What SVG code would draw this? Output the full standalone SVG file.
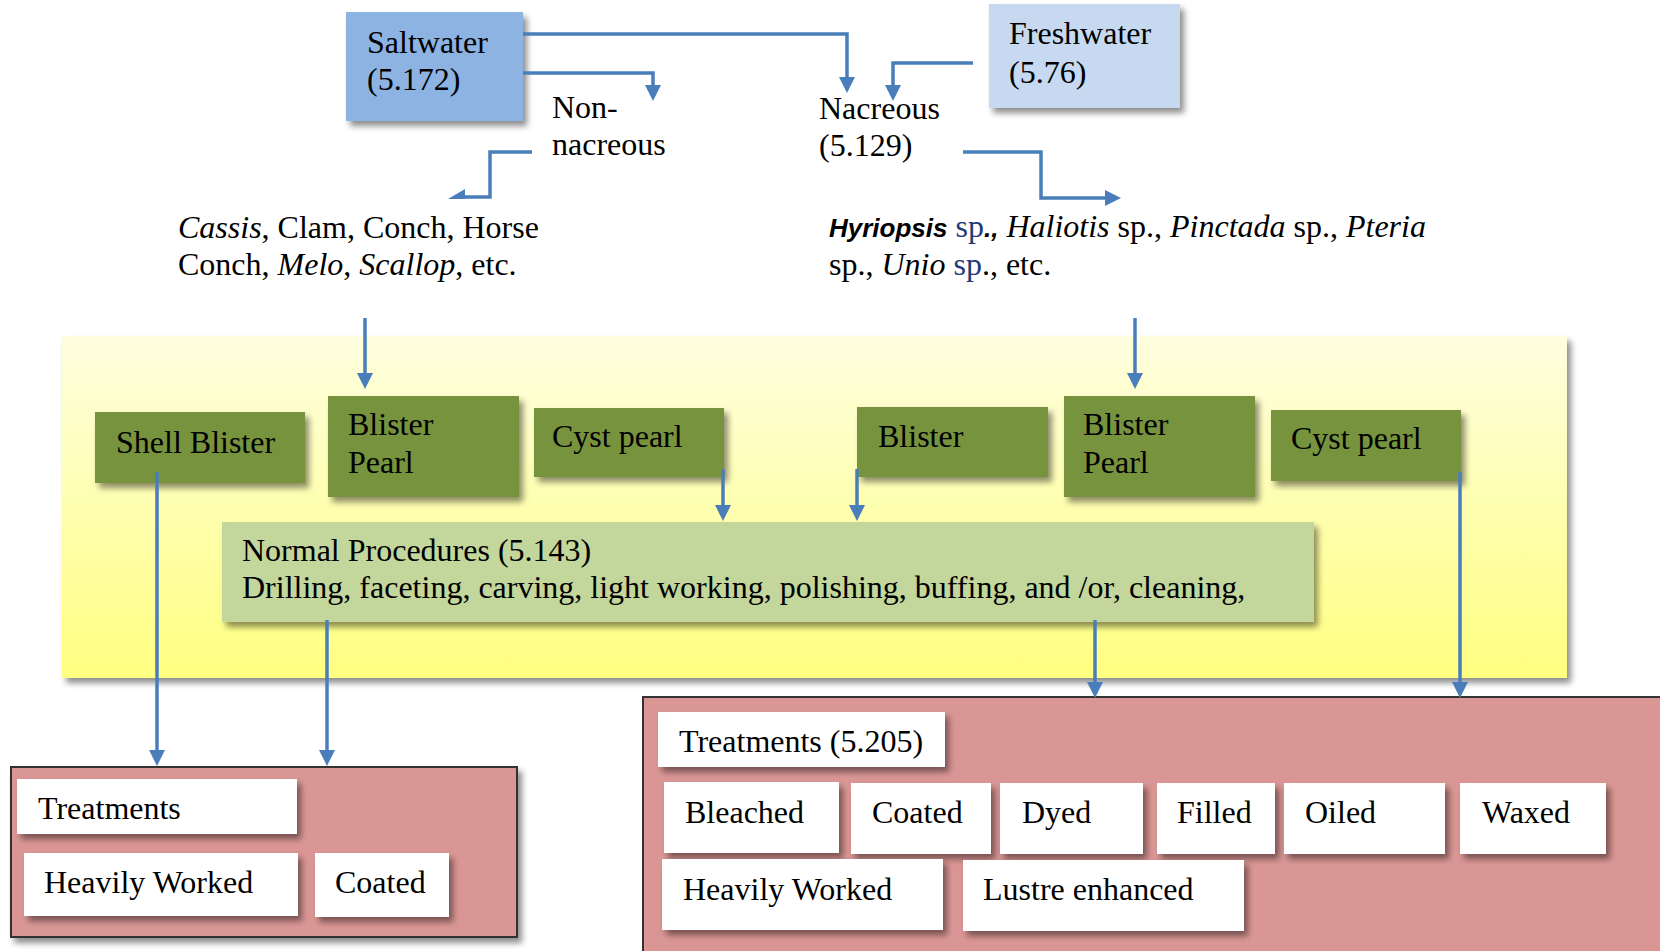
<svg xmlns="http://www.w3.org/2000/svg" width="1660" height="951" viewBox="0 0 1660 951">
<defs>
<style>
.t{font-family:"Liberation Serif","Times New Roman",serif;font-size:32px;fill:#000}
.i{font-style:italic}
.hy{font-family:"Liberation Sans",Arial,sans-serif;font-size:26px;font-weight:bold;font-style:italic}
.bl{fill:#1F3A78}
.c{fill:none;stroke:#4A7EBB;stroke-width:3.5}
.g{fill:#77933C}
.w{fill:#FFFFFF}
.red{fill:#D99694;stroke:#333;stroke-width:2}
</style>
<linearGradient id="yg" x1="0" y1="0" x2="0" y2="1">
<stop offset="0" stop-color="#FEFEE0"/>
<stop offset="1" stop-color="#FFFF80"/>
</linearGradient>
<filter id="sh" x="-10%" y="-10%" width="130%" height="140%">
<feGaussianBlur in="SourceAlpha" stdDeviation="3"/>
<feOffset dx="4" dy="5"/>
<feComponentTransfer><feFuncA type="linear" slope="0.45"/></feComponentTransfer>
<feMerge><feMergeNode/><feMergeNode in="SourceGraphic"/></feMerge>
</filter>
<marker id="ah" viewBox="0 0 16 16" markerWidth="16" markerHeight="16" refX="1" refY="8" orient="auto" markerUnits="userSpaceOnUse">
<path d="M0,0 L16,8 L0,16 z" fill="#4A7EBB"/>
</marker>
</defs>
<rect width="1660" height="951" fill="#FFFFFF"/>

<g id="panel">
<rect x="62" y="336" width="1505" height="342" fill="url(#yg)" filter="url(#sh)"/>
</g>

<g id="saltwater">
<rect x="346" y="12" width="177" height="109" fill="#8DB3E2" filter="url(#sh)"/>
<text class="t" x="367" y="53">Saltwater</text>
<text class="t" x="367" y="90">(5.172)</text>
</g>
<g id="freshwater">
<rect x="989" y="4" width="191" height="104" fill="#C6D9F1" filter="url(#sh)"/>
<text class="t" x="1009" y="44">Freshwater</text>
<text class="t" x="1009" y="83">(5.76)</text>
</g>
<g id="nonnacreous">
<text class="t" x="552" y="118">Non-</text>
<text class="t" x="552" y="155">nacreous</text>
</g>
<g id="nacreous">
<text class="t" x="819" y="119">Nacreous</text>
<text class="t" x="819" y="156">(5.129)</text>
</g>
<g id="saltspecies">
<text class="t" x="178" y="238"><tspan class="i">Cassis</tspan>, Clam, Conch, Horse</text>
<text class="t" x="178" y="275">Conch, <tspan class="i">Melo</tspan>, <tspan class="i">Scallop</tspan>, etc.</text>
</g>
<g id="freshspecies">
<text class="t" x="829" y="237"><tspan class="hy">Hyriopsis</tspan> <tspan class="bl">sp</tspan><tspan class="hy">.,</tspan> <tspan class="i">Haliotis</tspan> sp., <tspan class="i">Pinctada</tspan> sp., <tspan class="i">Pteria</tspan></text>
<text class="t" x="829" y="275">sp., <tspan class="i">Unio</tspan> <tspan class="bl">sp</tspan>., etc.</text>
</g>

<g id="shellblister">
<rect class="g" x="95" y="412" width="210" height="71" filter="url(#sh)"/>
<text class="t" x="116" y="453">Shell Blister</text>
</g>
<g id="blisterpearl1">
<rect class="g" x="328" y="396" width="191" height="101" filter="url(#sh)"/>
<text class="t" x="348" y="435">Blister</text>
<text class="t" x="348" y="473">Pearl</text>
</g>
<g id="cystpearl1">
<rect class="g" x="534" y="408" width="190" height="69" filter="url(#sh)"/>
<text class="t" x="552" y="447">Cyst pearl</text>
</g>
<g id="blister2">
<rect class="g" x="857" y="407" width="191" height="70" filter="url(#sh)"/>
<text class="t" x="878" y="447">Blister</text>
</g>
<g id="blisterpearl2">
<rect class="g" x="1064" y="396" width="191" height="101" filter="url(#sh)"/>
<text class="t" x="1083" y="435">Blister</text>
<text class="t" x="1083" y="473">Pearl</text>
</g>
<g id="cystpearl2">
<rect class="g" x="1271" y="410" width="190" height="71" filter="url(#sh)"/>
<text class="t" x="1291" y="449">Cyst pearl</text>
</g>
<g id="normal">
<rect x="222" y="522" width="1092" height="100" fill="#C3D69B" filter="url(#sh)"/>
<text class="t" x="242" y="561">Normal Procedures (5.143)</text>
<text class="t" x="242" y="598">Drilling, faceting, carving, light working, polishing, buffing, and /or, cleaning,</text>
</g>

<g id="treatleft">
<rect class="red" x="11" y="767" width="506" height="170" filter="url(#sh)"/>
<g filter="url(#sh)">
<rect class="w" x="17" y="779" width="280" height="55"/>
<rect class="w" x="24" y="853" width="274" height="63"/>
<rect class="w" x="315" y="853" width="134" height="64"/>
</g>
<text class="t" x="38" y="819">Treatments</text>
<text class="t" x="44" y="893">Heavily Worked</text>
<text class="t" x="335" y="893">Coated</text>
</g>

<g id="treatright">
<rect class="red" x="643" y="697" width="1030" height="270"/>
<g filter="url(#sh)">
<rect class="w" x="658" y="712" width="287" height="55"/>
<rect class="w" x="664" y="782" width="175" height="71"/>
<rect class="w" x="851" y="783" width="140" height="71"/>
<rect class="w" x="1000" y="783" width="143" height="71"/>
<rect class="w" x="1157" y="783" width="118" height="71"/>
<rect class="w" x="1284" y="783" width="161" height="71"/>
<rect class="w" x="1460" y="783" width="146" height="71"/>
<rect class="w" x="662" y="859" width="281" height="71"/>
<rect class="w" x="963" y="860" width="281" height="71"/>
</g>
<text class="t" x="679" y="752">Treatments (5.205)</text>
<text class="t" x="685" y="823">Bleached</text>
<text class="t" x="872" y="823">Coated</text>
<text class="t" x="1022" y="823">Dyed</text>
<text class="t" x="1177" y="823">Filled</text>
<text class="t" x="1305" y="823">Oiled</text>
<text class="t" x="1482" y="823">Waxed</text>
<text class="t" x="683" y="900">Heavily Worked</text>
<text class="t" x="983" y="900">Lustre enhanced</text>
</g>

<g id="connectors">
<path class="c" d="M523,34 H847 V78" marker-end="url(#ah)"/>
<path class="c" d="M523,73 H653 V86" marker-end="url(#ah)"/>
<path class="c" d="M973,63 H893 V86" marker-end="url(#ah)"/>
<path class="c" d="M532,152 H490 V197 H456"/>
<polygon points="448,199 465,189 465,199" fill="#4A7EBB"/>
<path class="c" d="M963,152 H1041 V198 H1106" marker-end="url(#ah)"/>
<path class="c" d="M365,318 V374" marker-end="url(#ah)"/>
<path class="c" d="M1135,318 V374" marker-end="url(#ah)"/>
<path class="c" d="M723,469 V506" marker-end="url(#ah)"/>
<path class="c" d="M857,469 V506" marker-end="url(#ah)"/>
<path class="c" d="M157,472 V751" marker-end="url(#ah)"/>
<path class="c" d="M327,620 V751" marker-end="url(#ah)"/>
<path class="c" d="M1095,620 V683" marker-end="url(#ah)"/>
<path class="c" d="M1460,472 V683" marker-end="url(#ah)"/>
</g>
</svg>
